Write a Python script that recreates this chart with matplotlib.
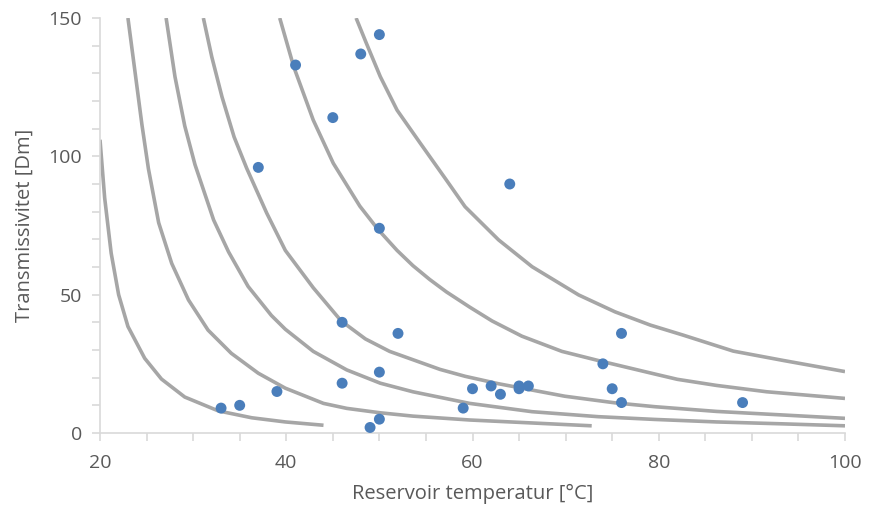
import matplotlib.pyplot as plt
from matplotlib.ticker import MultipleLocator

# measured points (temperature, transmissivity)
pts_temp = [33, 35, 39, 37, 41, 45, 48, 50, 50, 46, 52, 46, 50, 50, 49,
            59, 60, 62, 63, 65, 65, 66, 64, 74, 75, 76, 76, 89]
pts_trans = [9, 10, 15, 96, 133, 114, 137, 144, 74, 40, 36, 18, 22, 5, 2,
             9, 16, 17, 14, 16, 17, 17, 90, 25, 16, 11, 36, 11]

# gray reference curves
curve_a_x = [20.0, 20.5, 21.2, 22.0, 23.0, 24.8, 26.6, 29.1, 32.7, 36.3, 39.9, 44.0]
curve_a_y = [106, 85, 65, 50, 38.5, 27, 19.5, 13, 8, 5.5, 4, 2.8]

curve_b_x = [23.0, 23.8, 24.5, 25.2, 26.3, 27.7, 29.5, 31.6, 34.1, 37.0, 39.9,
             44.0, 46.5, 50.1, 53.6, 59.7, 72.8]
curve_b_y = [150, 129.5, 111.5, 95.5, 76, 61.3, 48.1, 37.2, 28.8, 21.6, 16.2,
             10.7, 8.9, 7.3, 6.1, 4.7, 2.6]

curve_c_x = [27.1, 28.05, 29.1, 30.2, 32.2, 33.8, 35.9, 38.4, 39.9, 42.9, 46.5,
             50.1, 53.6, 59.7, 66.4, 73.5, 79.6, 86.2, 93.4, 100]
curve_c_y = [150, 128.8, 111, 97, 77, 65.5, 53, 42.5, 37.5, 29.5, 22.8,
             18, 14.9, 10.7, 7.7, 5.9, 4.9, 4.0, 3.3, 2.6]

curve_d_x = [31.1, 32.0, 33.1, 34.4, 35.75, 37.9, 39.9, 42.9, 45.9, 48.5, 51.1,
             56.5, 59.2, 62.8, 69.9, 75.3, 79.6, 86.2, 93.4, 100]
curve_d_y = [150, 136, 121.5, 107, 95.7, 79.5, 66, 52.5, 40.5, 34, 29.5,
             23, 20.5, 17.8, 13.3, 10.9, 9.5, 7.8, 6.5, 5.3]

curve_e_x = [39.3, 40.8, 42.9, 45.05, 47.9, 49.85, 51.9, 53.6, 55.4, 57.2, 59.7,
             62.1, 65.3, 69.6, 73.5, 79.6, 82.0, 86.2, 91.6, 100]
curve_e_y = [150, 132.4, 113.1, 97.5, 82, 73.6, 66, 60.5, 55.5, 51, 45.5,
             40.5, 35, 29.5, 26.2, 21.3, 19.4, 17.2, 14.9, 12.5]

curve_f_x = [47.5, 48.6, 50.1, 51.9, 54.4, 57.2, 59.2, 62.8, 66.4, 71.4, 75.3,
             79.1, 82.6, 88.0, 93.4, 100]
curve_f_y = [150, 140.9, 128.8, 116.7, 104.7, 91.4, 81.8, 69.8, 60.1, 49.9, 43.8,
             39.0, 35.4, 29.6, 26.2, 22.2]

curves = [(curve_a_x, curve_a_y), (curve_b_x, curve_b_y), (curve_c_x, curve_c_y),
          (curve_d_x, curve_d_y), (curve_e_x, curve_e_y), (curve_f_x, curve_f_y)]

plt.rcParams['font.family'] = ['Open Sans', 'DejaVu Sans']
txt = '#595959'
axc = '#d9d9d9'

fig = plt.figure(figsize=(8.72, 5.14), dpi=100)
ax = fig.add_axes([100 / 872, 1 - 433 / 514, 745 / 872, 415 / 514])

for cx, cy in curves:
    ax.plot(cx, cy, color='#a6a6a6', lw=2.6, solid_capstyle='butt',
            solid_joinstyle='round', zorder=2)

ax.scatter(pts_temp, pts_trans, s=62, color='#4a7ebb', edgecolors='none', zorder=3)

ax.set_xlim(20, 100)
ax.set_ylim(0, 150)
ax.xaxis.set_major_locator(MultipleLocator(20))
ax.xaxis.set_minor_locator(MultipleLocator(5))
ax.yaxis.set_major_locator(MultipleLocator(50))
ax.yaxis.set_minor_locator(MultipleLocator(10))

for s in ['top', 'right']:
    ax.spines[s].set_visible(False)
for s in ['left', 'bottom']:
    ax.spines[s].set_color(axc)
    ax.spines[s].set_linewidth(1.2)

ax.tick_params(axis='both', which='both', color=axc, width=1.2, length=6,
               direction='out', labelcolor=txt, labelsize=14)
ax.tick_params(axis='x', which='major', pad=9)
ax.tick_params(axis='y', which='major', pad=7)

ax.set_xlabel('Reservoir temperatur [°C]', color=txt, fontsize=14.5, labelpad=9)
ax.set_ylabel('Transmissivitet [Dm]', color=txt, fontsize=14.5, labelpad=10)

fig.savefig('out.png', dpi=100)
